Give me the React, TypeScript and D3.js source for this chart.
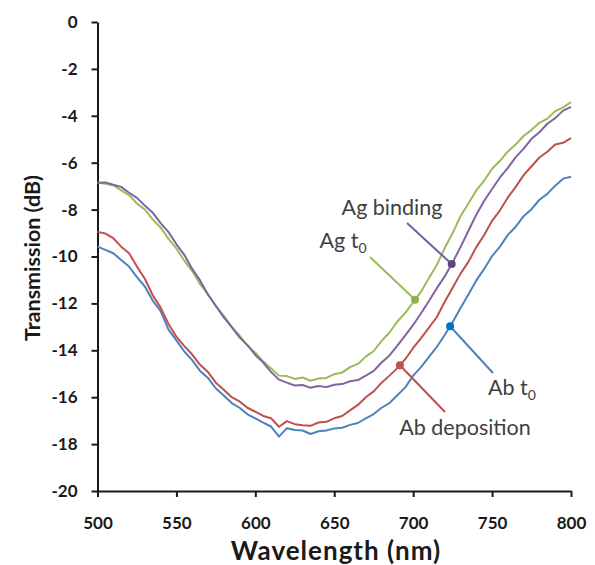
import React, { useRef, useEffect } from "react";
import * as d3 from "d3";

// wavelength grid (nm), 5 nm steps
const wavelengths: number[] = d3.range(500, 801, 5);

// Transmission (dB)
const agT0 = [
  -6.85, -6.9, -6.96, -7.18, -7.38, -7.74, -8.0, -8.42, -8.76, -9.25,
  -9.66, -10.18, -10.62, -11.18, -11.6, -12.13, -12.52, -13.01, -13.37, -13.8,
  -14.1, -14.48, -14.78, -15.08, -15.1, -15.22, -15.16, -15.3, -15.2, -15.18,
  -15.02, -14.95, -14.72, -14.58, -14.27, -14.03, -13.6, -13.24, -12.77, -12.4,
  -11.95, -11.5, -10.92, -10.36, -9.64, -9.0, -8.28, -7.74, -7.18, -6.76,
  -6.26, -5.92, -5.52, -5.22, -4.86, -4.6, -4.3, -4.12, -3.8, -3.64, -3.42,
];
const agBinding = [
  -6.85, -6.84, -6.94, -7.03, -7.28, -7.5, -7.83, -8.13, -8.58, -8.96,
  -9.48, -9.93, -10.53, -11.02, -11.63, -12.1, -12.6, -13.0, -13.45, -13.78,
  -14.2, -14.52, -14.93, -15.25, -15.38, -15.5, -15.48, -15.6, -15.52, -15.57,
  -15.47, -15.44, -15.32, -15.27, -15.08, -14.88, -14.52, -14.22, -13.8, -13.36,
  -12.92, -12.42, -11.9, -11.35, -10.85, -10.25, -9.6, -8.9, -8.22, -7.62,
  -7.12, -6.63, -6.22, -5.76, -5.4, -4.98, -4.7, -4.34, -4.1, -3.78, -3.62,
];
const abDeposition = [
  -8.95, -9.02, -9.22, -9.58, -9.86, -10.43, -10.95, -11.65, -12.18, -12.88,
  -13.42, -13.82, -14.18, -14.62, -14.93, -15.38, -15.68, -16.0, -16.18, -16.45,
  -16.62, -16.8, -16.9, -17.26, -17.02, -17.15, -17.2, -17.22, -17.08, -17.05,
  -16.9, -16.8, -16.56, -16.33, -16.0, -15.75, -15.38, -15.08, -14.76, -14.38,
  -13.9, -13.48, -13.03, -12.58, -11.93, -11.33, -10.73, -10.23, -9.6, -9.08,
  -8.48, -8.03, -7.48, -7.03, -6.53, -6.15, -5.78, -5.53, -5.22, -5.15, -4.95,
];
const abT0 = [
  -9.58, -9.72, -9.86, -10.15, -10.43, -10.88, -11.28, -11.88, -12.33, -13.12,
  -13.58, -14.05, -14.42, -14.88, -15.18, -15.63, -15.93, -16.25, -16.45, -16.73,
  -16.9, -17.08, -17.25, -17.68, -17.32, -17.4, -17.42, -17.57, -17.45, -17.42,
  -17.33, -17.3, -17.18, -17.1, -16.9, -16.72, -16.45, -16.25, -15.92, -15.58,
  -15.08, -14.72, -14.28, -13.85, -13.35, -12.8, -12.2, -11.62, -11.02, -10.53,
  -9.98, -9.58, -9.08, -8.73, -8.28, -7.98, -7.58, -7.33, -6.98, -6.68, -6.6,
];

const xTicks = [500, 550, 600, 650, 700, 750, 800];
const yTicks = [0, -2, -4, -6, -8, -10, -12, -14, -16, -18, -20];

const series = [
  { name: "Ab t0", values: abT0, color: "#4F81BD" },
  { name: "Ab deposition", values: abDeposition, color: "#C0504D" },
  { name: "Ag t0", values: agT0, color: "#9BBB59" },
  { name: "Ag binding", values: agBinding, color: "#8064A2" },
];

// callouts: wavelength of the dot on its curve, leader end and label position
const callouts = [
  { label: "Ag binding", sub: "", values: agBinding, at: 724.4, end: [407, 223], tx: 392, ty: 215, line: "#7060A0", dot: "#5F497A" },
  { label: "Ag t", sub: "0", values: agT0, at: 701.2, end: [370, 257], tx: 343, ty: 248, line: "#9BBB59", dot: "#8DB04A" },
  { label: "Ab t", sub: "0", values: abT0, at: 723.4, end: [493, 373], tx: 512, ty: 395, line: "#4F81BD", dot: "#0070C0" },
  { label: "Ab deposition", sub: "", values: abDeposition, at: 691.6, end: [445, 412], tx: 465, ty: 435, line: "#C0504D", dot: "#C0504D" },
];

const font = "Lato, 'Open Sans', sans-serif";

const App = () => {
  const ref = useRef<SVGSVGElement>(null);

  useEffect(() => {
    const svg = d3.select(ref.current);
    svg.selectAll("*").remove();

    const x = d3.scaleLinear().domain([500, 800]).range([97.5, 571]);
    const y = d3.scaleLinear().domain([-20, 0]).range([491, 22]);

    // x axis
    const gx = svg
      .append("g")
      .attr("transform", "translate(0,491)")
      .call(d3.axisBottom(x).tickValues(xTicks).tickSize(6).tickSizeOuter(0).tickPadding(20).tickFormat((d) => String(d)));
    gx.select(".domain").attr("stroke", "#1a1a1a").attr("stroke-width", 2);
    gx.selectAll(".tick line").attr("stroke", "#1a1a1a").attr("stroke-width", 2);
    gx.selectAll(".tick text")
      .attr("fill", "#1a1a1a")
      .style("font-family", font)
      .style("font-weight", "bold")
      .style("font-size", "17px");

    // y axis
    const gy = svg
      .append("g")
      .attr("transform", "translate(97.5,0)")
      .call(d3.axisLeft(y).tickValues(yTicks).tickSize(6).tickSizeOuter(0).tickPadding(14).tickFormat((d) => String(d)));
    gy.select(".domain").attr("stroke", "#1a1a1a").attr("stroke-width", 2);
    gy.selectAll(".tick line").attr("stroke", "#1a1a1a").attr("stroke-width", 2);
    gy.selectAll(".tick text")
      .attr("fill", "#1a1a1a")
      .style("font-family", font)
      .style("font-weight", "bold")
      .style("font-size", "17px");

    // titles
    svg
      .append("text")
      .attr("x", 336)
      .attr("y", 560)
      .attr("text-anchor", "middle")
      .attr("fill", "#1a1a1a")
      .style("font-family", font)
      .style("font-weight", "bold")
      .style("font-size", "26px")
      .style("letter-spacing", "1px")
      .text("Wavelength (nm)");
    svg
      .append("text")
      .attr("transform", "translate(40,258) rotate(-90)")
      .attr("text-anchor", "middle")
      .attr("fill", "#1a1a1a")
      .style("font-family", font)
      .style("font-weight", "bold")
      .style("font-size", "21.5px")
      .text("Transmission (dB)");

    // curves
    const line = d3
      .line<number>()
      .x((_, i) => x(wavelengths[i]))
      .y((d) => y(d));
    svg
      .append("g")
      .selectAll("path")
      .data(series)
      .enter()
      .append("path")
      .attr("d", (d) => line(d.values))
      .attr("fill", "none")
      .attr("stroke", (d) => d.color)
      .attr("stroke-width", 2)
      .attr("stroke-linejoin", "round");

    // callouts, dot sits on its curve
    const onCurve = (vals: number[], w: number) => {
      const i = Math.min(Math.floor((w - 500) / 5), vals.length - 2);
      const f = (w - wavelengths[i]) / 5;
      return vals[i] + (vals[i + 1] - vals[i]) * f;
    };
    const c = svg.append("g").selectAll("g").data(callouts).enter().append("g");
    c.append("line")
      .attr("x1", (d) => x(d.at))
      .attr("y1", (d) => y(onCurve(d.values, d.at)))
      .attr("x2", (d) => d.end[0])
      .attr("y2", (d) => d.end[1])
      .attr("stroke", (d) => d.line)
      .attr("stroke-width", 2);
    c.append("circle")
      .attr("cx", (d) => x(d.at))
      .attr("cy", (d) => y(onCurve(d.values, d.at)))
      .attr("r", 4)
      .attr("fill", (d) => d.dot);
    const t = c
      .append("text")
      .attr("x", (d) => d.tx)
      .attr("y", (d) => d.ty)
      .attr("text-anchor", "middle")
      .attr("fill", "#404040")
      .style("font-family", font)
      .style("font-size", "21.5px");
    t.append("tspan").text((d) => d.label);
    t.append("tspan")
      .attr("dy", 5)
      .style("font-size", "14px")
      .text((d) => d.sub);
  }, []);

  return (
    <svg
      ref={ref}
      width={595}
      height={565}
      style={{ position: "absolute", left: 0, top: 0, background: "#fff" }}
    />
  );
};

export default App;
